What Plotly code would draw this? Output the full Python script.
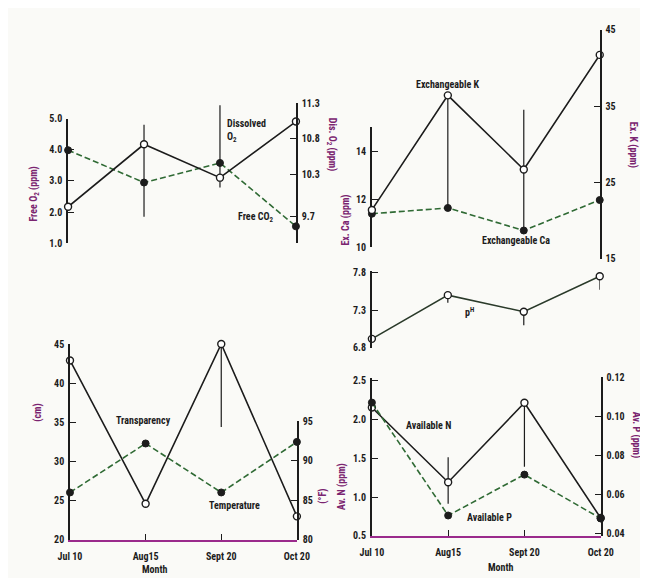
import plotly.graph_objects as go

W, H = 648, 578

months = ["Jul 10", "Aug15", "Sept 20", "Oct 20"]

# Panel A: Free CO2 (left) and Dissolved O2 (right)
free_co2 = [3.99, 2.95, 3.58, 1.54]
free_co2_err_plus = [0, 1.86, 0, 0]
free_co2_err_minus = [0, 1.10, 0, 0]
dis_o2 = [9.84, 10.72, 10.25, 11.04]
dis_o2_err_plus = [0, 0, 1.02, 0]
dis_o2_err_minus = [0, 0, 0.14, 0]
free_co2_ticks = [1, 2, 3, 4, 5]
free_co2_ticktext = ["1.0", "2.0", "3.0", "4.0", "5.0"]
dis_o2_ticks = [9.7, 10.3, 10.8, 11.3]
dis_o2_ticktext = ["9.7", "10.3", "10.8", "11.3"]

# Panel B: Exchangeable Ca (left) and Exchangeable K (right)
ex_ca = [11.39, 11.63, 10.69, 11.96]
ex_k = [21.4, 36.4, 26.7, 41.7]
ex_k_err_plus = [0, 0, 7.8, 0]
ex_k_err_minus = [0, 14.7, 8.0, 0]
ex_ca_ticks = [10, 12, 14]
ex_k_ticks = [15, 25, 35, 45]

# Panel C: pH
ph = [6.92, 7.50, 7.28, 7.75]
ph_err_minus = [0, 0.10, 0.18, 0.18]
ph_ticks = [6.8, 7.3, 7.8]

# Panel D: Transparency (left) and Temperature (right)
transparency = [42.9, 24.6, 45.0, 23.0]
transp_err_minus = [0, 0, 10.6, 0]
temperature = [86.0, 92.2, 86.0, 92.4]
transp_ticks = [20, 25, 30, 35, 40, 45]
temp_ticks = [80, 85, 90, 95]

# Panel E: Available N (left) and Available P (right)
av_n = [2.15, 1.19, 2.21, 0.73]
av_n_err_plus = [0, 0.32, 0, 0]
av_n_err_minus = [0, 0.275, 0.82, 0]
av_p = [0.107, 0.049, 0.070, 0.0475]
av_n_ticks = [0.5, 1.0, 1.5, 2.0, 2.5]
av_n_ticktext = ["0.5", "1.0", "1.5", "2.0", "2.5"]
av_p_ticks = [0.04, 0.06, 0.08, 0.10, 0.12]
av_p_ticktext = ["0.04", "0.06", "0.08", "0.10", "0.12"]


def px(x):
    return x / W


def py(y):
    return 1 - y / H


INK = "#1c1c1c"
DASHC = "#2f6a34"
TITLEC = "#7a2470"
XLINEC = "#9a2a8c"
FONT = "Liberation Sans Narrow, Arial Narrow, Roboto Condensed, Liberation Sans, sans-serif"

fig = go.Figure()


def err(plus, minus):
    return dict(type="data", symmetric=False,
                array=plus if plus is not None else [0] * 4,
                arrayminus=minus if minus is not None else [0] * 4,
                width=0, thickness=1.2, color=INK)


def add_solid(ax, y, err_plus=None, err_minus=None, color=INK):
    kw = {}
    if err_plus is not None or err_minus is not None:
        kw["error_y"] = err(err_plus, err_minus)
    fig.add_trace(go.Scatter(
        x=months, y=y, xaxis="x" + ax, yaxis="y" + ax, mode="lines+markers",
        line=dict(color=color, width=1.6),
        marker=dict(symbol="circle", size=7, color="white", line=dict(color=INK, width=1.4)),
        cliponaxis=False, showlegend=False, **kw))


def add_dashed(ax, y, err_plus=None, err_minus=None, color=DASHC):
    kw = {}
    if err_plus is not None or err_minus is not None:
        kw["error_y"] = err(err_plus, err_minus)
    fig.add_trace(go.Scatter(
        x=months, y=y, xaxis="x" + ax, yaxis="y" + ax, mode="lines+markers",
        line=dict(color=color, width=1.6, dash="6px,3px"),
        marker=dict(symbol="circle", size=7, color=INK, line=dict(color=INK, width=1)),
        cliponaxis=False, showlegend=False, **kw))


# traces
add_dashed("", free_co2, free_co2_err_plus, free_co2_err_minus)
add_solid("2", dis_o2, dis_o2_err_plus, dis_o2_err_minus)
add_dashed("3", ex_ca)
add_solid("4", ex_k, ex_k_err_plus, ex_k_err_minus)
add_solid("5", ph, None, ph_err_minus, color="#2a3a2a")
add_solid("6", transparency, None, transp_err_minus)
add_dashed("7", temperature)
add_solid("8", av_n, av_n_err_plus, av_n_err_minus)
add_dashed("9", av_p)

tickfont = dict(family=FONT, size=10, color=INK, weight="bold")


def xax(dom, visible=False, anchor="y"):
    d = dict(domain=[px(dom[0]), px(dom[1])], range=[0, 3], type="category",
             anchor=anchor, visible=visible, showgrid=False, zeroline=False,
             fixedrange=True)
    if visible:
        d.update(showline=True, linecolor=XLINEC, linewidth=1.6, ticks="inside",
                 ticklen=6, tickcolor=INK, tickwidth=1.2, tickfont=tickfont,
                 ticklabelstandoff=6)
    return d


def yax(dom, rng, tickvals, ticktext, side, anchor):
    return dict(domain=[py(dom[0]), py(dom[1])], range=rng, anchor=anchor, side=side,
                tickmode="array", tickvals=tickvals, ticktext=ticktext,
                showline=True, linecolor=INK, linewidth=1.6, ticks="inside",
                ticklen=6, tickcolor=INK, tickwidth=1.4, tickfont=tickfont,
                showgrid=False, zeroline=False, ticklabelstandoff=2)


dA, dB, dD, dE = (50, 287), (366, 603), (52, 288), (366, 604)

layout = dict(
    width=W, height=H, margin=dict(l=0, r=0, t=0, b=0),
    paper_bgcolor="#fafaf7", plot_bgcolor="rgba(0,0,0,0)",
    font=dict(family=FONT, color=INK),
    xaxis=xax(dA, anchor="y"),
    yaxis=yax((234, 107), [1, 5], free_co2_ticks, free_co2_ticktext, "left", "x"),
    xaxis2=xax(dA, anchor="y2"),
    yaxis2=yax((234, 91), [9.328, 11.3], dis_o2_ticks, dis_o2_ticktext, "right", "x2"),
    xaxis3=xax(dB, anchor="y3"),
    yaxis3=yax((238, 115), [10, 15.02], ex_ca_ticks, [str(v) for v in ex_ca_ticks], "left", "x3"),
    xaxis4=xax(dB, anchor="y4"),
    yaxis4=yax((250, 16), [15, 45], ex_k_ticks, [str(v) for v in ex_k_ticks], "right", "x4"),
    xaxis5=xax(dB, anchor="y5"),
    yaxis5=yax((341, 262), [6.8, 7.826], ph_ticks, [str(v) for v in ph_ticks], "left", "x5"),
    xaxis6=xax(dD, visible=True, anchor="y6"),
    yaxis6=yax((537, 337), [20, 45], transp_ticks, [str(v) for v in transp_ticks], "left", "x6"),
    xaxis7=xax(dD, anchor="y7"),
    yaxis7=yax((537, 416), [80, 95], temp_ticks, [str(v) for v in temp_ticks], "right", "x7"),
    xaxis8=xax(dE, visible=True, anchor="y8"),
    yaxis8=yax((533, 372), [0.5, 2.525], av_n_ticks, av_n_ticktext, "left", "x8"),
    xaxis9=xax(dE, anchor="y9"),
    yaxis9=yax((533, 371), [0.0385, 0.12], av_p_ticks, av_p_ticktext, "right", "x9"),
)
fig.update_layout(**layout)


# Axis titles and series labels
def note(text, x, y, angle=0, size=10, color=INK, weight="bold", align="center"):
    fig.add_annotation(text=text, x=px(x), y=py(y), xref="paper", yref="paper",
                       xanchor="center", yanchor="middle", align=align,
                       showarrow=False, textangle=angle,
                       font=dict(family=FONT, size=size, color=color, weight=weight))


note("Free O<sub>2</sub> (ppm)", 15, 184, -90, color=TITLEC)
note("Dis. O<sub>2</sub> (ppm)", 324, 133, 90, color=TITLEC)
note("Ex. Ca (ppm)", 339, 210, -90, color=TITLEC)
note("Ex. K (ppm)", 637, 134, 90, color=TITLEC)
note("(cm)", 18, 407, -90, color=TITLEC)
note("(°F)", 315, 492, -90, color=TITLEC)
note("Av. N (ppm)", 335, 483, -90, color=TITLEC)
note("Av. P (ppm)", 641, 430, 90, color=TITLEC)

note("Dissolved<br>O<sub>2</sub>", 236, 119, align="left")
note("Free CO<sub>2</sub>", 245, 208)
note("Exchangeable K", 445, 72)
note("Exchangeable Ca", 516, 231)
note("p<sup>H</sup>", 468, 304)
note("Transparency", 128, 415)
note("Temperature", 223, 502)
note("Available N", 425, 420)
note("Available P", 488, 514)
note("Month", 140, 567)
note("Month", 500, 565)

fig.write_html("out.html")
